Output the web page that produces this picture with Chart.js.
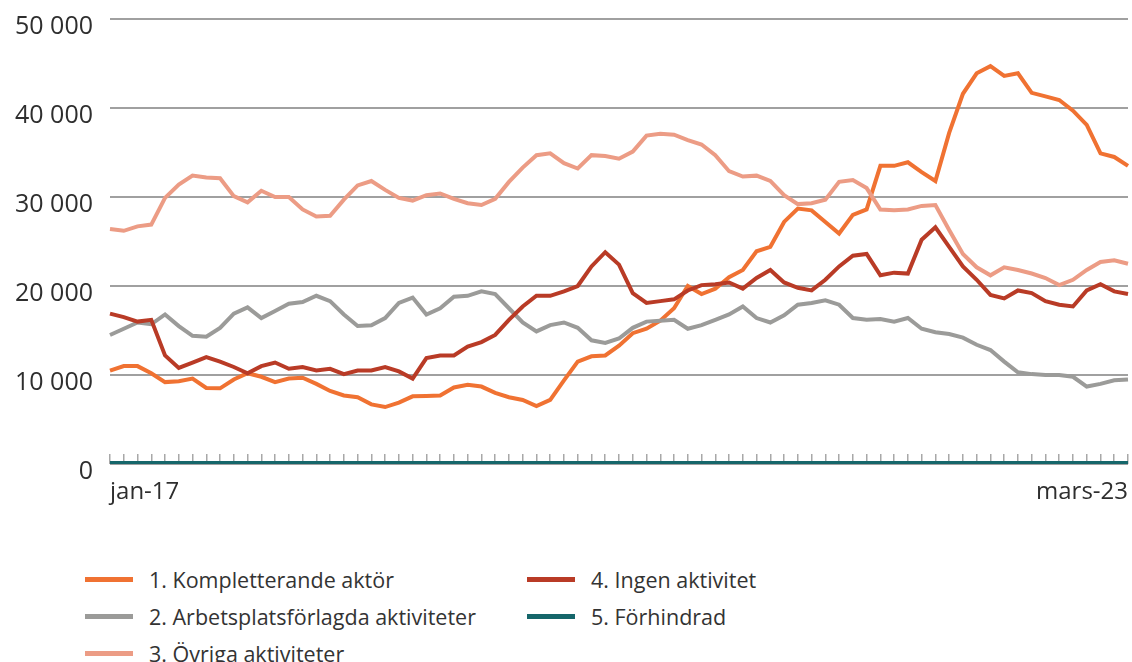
<!DOCTYPE html>
<html>
<head>
<meta charset="utf-8">
<script src="https://cdn.jsdelivr.net/npm/chart.js@4"></script>
<style>
  html, body { margin: 0; padding: 0; background: #fff; }
  body { width: 1132px; height: 662px; position: relative; overflow: hidden; font-family: "Open Sans", sans-serif; }
  #wrap { position: absolute; left: 0; top: 0; width: 1132px; height: 520px; }
  .leg { position: absolute; display: flex; align-items: center; color: #333; font-size: 21.5px; white-space: nowrap; }
  .sw { width: 48px; height: 5px; margin-right: 16px; }
</style>
</head>
<body>
<div id="wrap"><canvas id="c"></canvas></div>
<div id="legend"></div>
<script>
const categories = [
  'jan-17','feb-17','mars-17','apr-17','maj-17','juni-17','juli-17','aug-17','sep-17','okt-17','nov-17','dec-17',
  'jan-18','feb-18','mars-18','apr-18','maj-18','juni-18','juli-18','aug-18','sep-18','okt-18','nov-18','dec-18',
  'jan-19','feb-19','mars-19','apr-19','maj-19','juni-19','juli-19','aug-19','sep-19','okt-19','nov-19','dec-19',
  'jan-20','feb-20','mars-20','apr-20','maj-20','juni-20','juli-20','aug-20','sep-20','okt-20','nov-20','dec-20',
  'jan-21','feb-21','mars-21','apr-21','maj-21','juni-21','juli-21','aug-21','sep-21','okt-21','nov-21','dec-21',
  'jan-22','feb-22','mars-22','apr-22','maj-22','juni-22','juli-22','aug-22','sep-22','okt-22','nov-22','dec-22',
  'jan-23','feb-23','mars-23'
];
const shownLabels = ['jan-17', 'mars-23'];
const yTicks = [0, 10000, 20000, 30000, 40000, 50000];

const seriesNames = [
  '1. Kompletterande aktör',
  '2. Arbetsplatsförlagda aktiviteter',
  '3. Övriga aktiviteter',
  '4. Ingen aktivitet',
  '5. Förhindrad'
];

const kompletterande = [
  10500,11000,11000,10200,9200,9300,9600,8550,8500,9500,10200,9800,
  9200,9600,9700,9000,8200,7700,7500,6700,6400,6900,7600,7650,
  7700,8600,8900,8700,8000,7500,7200,6500,7200,9400,11500,12100,
  12200,13300,14700,15200,16100,17500,20000,19100,19700,21000,21800,23900,
  24400,27200,28700,28500,27200,25900,28000,28600,33500,33500,33900,32800,
  31800,37200,41600,43900,44700,43600,43900,41700,41300,40900,39700,38100,
  34900,34500,33500
];
const arbetsplats = [
  14500,15200,15900,15700,16800,15500,14400,14300,15300,16900,17600,16400,
  17200,18000,18200,18900,18300,16800,15500,15600,16400,18100,18700,16800,
  17500,18800,18900,19400,19100,17500,15900,14900,15600,15900,15300,13900,
  13600,14100,15300,16000,16100,16200,15200,15600,16200,16800,17700,16400,
  15900,16700,17900,18100,18400,17900,16400,16200,16300,16000,16400,15200,
  14800,14600,14200,13400,12800,11500,10300,10100,10000,10000,9800,8700,
  9000,9400,9500
];
const ovriga = [
  26400,26200,26700,26900,29900,31400,32400,32200,32100,30100,29400,30700,
  30000,30000,28600,27800,27900,29700,31300,31800,30800,29900,29600,30200,
  30400,29800,29300,29100,29800,31700,33300,34700,34900,33800,33200,34700,
  34600,34300,35100,36900,37100,37000,36400,35900,34700,32900,32300,32400,
  31800,30200,29200,29300,29700,31700,31900,31000,28600,28500,28600,29000,
  29100,26300,23600,22100,21200,22100,21800,21400,20900,20100,20700,21800,
  22700,22900,22500
];
const ingen = [
  16900,16500,16000,16200,12200,10800,11400,12000,11500,10900,10200,11000,
  11400,10700,10900,10500,10700,10100,10500,10500,10900,10400,9600,11900,
  12200,12200,13200,13700,14500,16200,17700,18900,18900,19400,20000,22200,
  23800,22400,19200,18100,18300,18500,19500,20100,20200,20400,19700,20900,
  21800,20400,19800,19500,20700,22200,23400,23600,21200,21500,21400,25200,
  26600,24400,22200,20700,19000,18600,19500,19200,18300,17900,17700,19500,
  20200,19400,19100
];
const forhindrad = [
  100,100,100,100,100,100,100,100,100,100,100,100,
  100,100,100,100,100,100,100,100,100,100,100,100,
  100,100,100,100,100,100,100,100,100,100,100,100,
  100,100,100,100,100,100,100,100,100,100,100,100,
  100,100,100,100,100,100,100,100,100,100,100,100,
  100,100,100,100,100,100,100,100,100,100,100,100,
  100,100,100
];

const colors = ['#F07232', '#9B9B99', '#EC9C85', '#B93B26', '#15666A'];
const seriesData = [kompletterande, arbetsplats, ovriga, ingen, forhindrad];

function fmt(v) {
  return String(v).replace(/\B(?=(\d{3})+(?!\d))/g, ' ');
}

const datasets = seriesData.map((d, i) => ({
  label: seriesNames[i],
  data: d,
  borderColor: colors[i],
  backgroundColor: colors[i],
  borderWidth: 4,
  pointRadius: 0,
  tension: 0,
  fill: false,
  order: 5 - i
}));

function noPad(scale) {
  scale.paddingTop = 0;
  scale.paddingBottom = 0;
  scale.paddingLeft = 0;
  scale.paddingRight = 0;
}

const chart = new Chart(document.getElementById('c'), {
  type: 'line',
  data: { labels: categories, datasets },
  options: {
    responsive: true,
    maintainAspectRatio: false,
    animation: false,
    layout: { padding: { top: 19, right: 4, left: 0, bottom: 0 } },
    plugins: { legend: { display: false }, tooltip: { enabled: false } },
    scales: {
      x: {
        offset: false,
        border: { display: false },
        grid: { display: true, drawOnChartArea: false, drawTicks: true, tickLength: -10, color: '#a8a8a8', lineWidth: 1.5 },
        ticks: {
          autoSkip: false, maxRotation: 0, minRotation: 0, align: 'inner',
          padding: 24,
          color: '#2e2e2e',
          font: { family: '"Open Sans", sans-serif', size: 24 },
          callback: function(value, index) {
            const l = categories[index];
            return shownLabels.includes(l) ? l : '';
          }
        },
        afterFit: function(scale) { scale.height = 56; noPad(scale); }
      },
      y: {
        min: yTicks[0],
        max: yTicks[yTicks.length - 1],
        border: { display: false },
        grid: { color: '#a0a0a0', lineWidth: 2, drawTicks: false },
        afterBuildTicks: function(scale) { scale.ticks = yTicks.map(v => ({ value: v })); },
        ticks: {
          padding: 17,
          labelOffset: 8,
          color: '#2e2e2e',
          font: { family: '"Open Sans", sans-serif', size: 25 },
          callback: function(v) { return fmt(v); }
        },
        afterFit: function(scale) { scale.width = 110; noPad(scale); }
      }
    }
  }
});

// HTML legend built from chart datasets (two columns)
const legendPos = [
  { left: 85, top: 579 },
  { left: 85, top: 616 },
  { left: 85, top: 653 },
  { left: 527, top: 579 },
  { left: 527, top: 616 }
];
const legendEl = document.getElementById('legend');
chart.data.datasets.forEach((ds, i) => {
  const item = document.createElement('div');
  item.className = 'leg';
  item.style.left = legendPos[i].left + 'px';
  item.style.top = (legendPos[i].top - 16) + 'px';
  item.style.height = '32px';
  const sw = document.createElement('span');
  sw.className = 'sw';
  sw.style.background = ds.borderColor;
  const tx = document.createElement('span');
  tx.textContent = ds.label;
  item.appendChild(sw);
  item.appendChild(tx);
  legendEl.appendChild(item);
});
</script>
</body>
</html>
